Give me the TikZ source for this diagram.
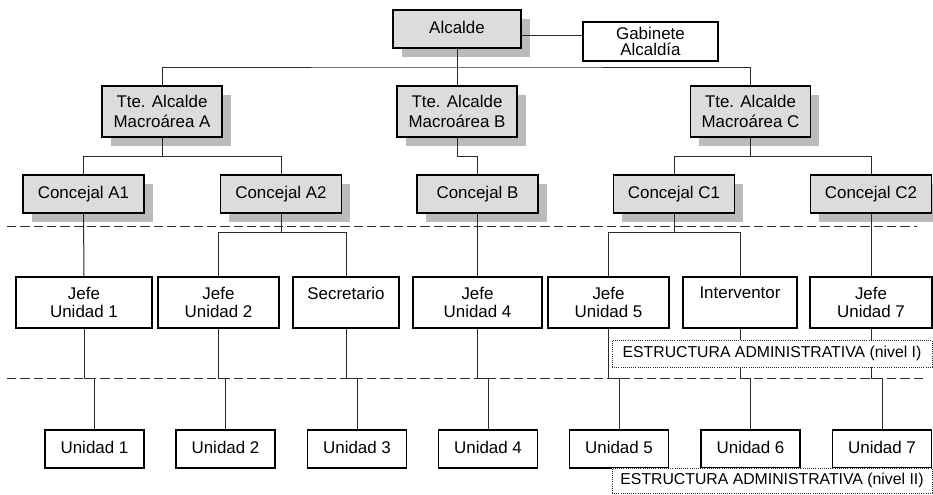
\documentclass[tikz,border=0pt]{standalone}
\usepackage{fontspec}
\setmainfont{Liberation Sans}
\usetikzlibrary{shadows}
\definecolor{boxgray}{HTML}{DCDCDC}
\definecolor{shadowgray}{HTML}{BEBABA}
\definecolor{linegray}{HTML}{2A2A2A}
\tikzset{
  orgbox/.style={draw=black, line width=0.85pt, inner sep=0pt, align=center,
    font=\fontsize{12.7}{14}\selectfont, fill=white},
  political/.style={orgbox, fill=boxgray,
    drop shadow={shadow xshift=6.4pt, shadow yshift=-7pt, fill=shadowgray, opacity=1, draw=none}},
  wtte/.style={minimum width=90pt, minimum height=38.25pt, font=\fontsize{12.7}{15}\selectfont},
  wconc/.style={minimum width=90.75pt, minimum height=28.5pt},
  wjefe/.style={minimum height=38.25pt},
  wunit/.style={minimum width=74.25pt, minimum height=28.5pt},
  conn/.style={draw=linegray, line width=0.75pt},
  levelsep/.style={draw=linegray, line width=0.75pt, dash pattern=on 7pt off 3pt},
  levellabel/.style={draw=linegray, line width=0.6pt, densely dotted, fill=white,
    inner sep=0pt, minimum width=240pt, font=\fontsize{11.85}{13}\selectfont}
}
\begin{document}
\begin{tikzpicture}[x=0.75pt, y=-0.75pt]
\useasboundingbox (0,0) rectangle (933,494);

% level separators
\draw[levelsep] (7,226) -- (917,226);
\draw[levelsep] (7,378) -- (925,378);

% political level
\node[political, minimum width=96pt, minimum height=28.5pt] (alcalde) at (457,29) {\raisebox{3pt}{Alcalde}};
\node[orgbox, minimum width=101.25pt, minimum height=29.25pt, font=\fontsize{12.7}{12}\selectfont] (gabinete) at (650.5,41.5) {Gabinete\\Alcaldía};

\node[political, wtte] (tteA) at (162,111.5) {Tte. Alcalde\\Macroárea A};
\node[political, wtte] (tteB) at (457,111.5) {Tte. Alcalde\\Macroárea B};
\node[political, wtte] (tteC) at (750.5,111.5) {Tte. Alcalde\\Macroárea C};

\node[political, wconc] (cA1) at (83.5,194) {Concejal A1};
\node[political, wconc] (cA2) at (281,194) {Concejal A2};
\node[political, wconc] (cB)  at (477.5,194) {Concejal B};
\node[political, wconc] (cC1) at (674,194) {Concejal C1};
\node[political, wconc] (cC2) at (871,194) {Concejal C2};

% administrative level I
\node[orgbox, wjefe, minimum width=102pt]   (j1)  at (84,302.5)    {Jefe\\Unidad 1};
\node[orgbox, wjefe, minimum width=90.75pt] (j2)  at (218.5,302.5) {Jefe\\Unidad 2};
\node[orgbox, wjefe, minimum width=79.5pt]  (sec) at (346,302.5)   {Secretario\\\mbox{}};
\node[orgbox, wjefe, minimum width=96.75pt] (j4)  at (477.5,302.5) {Jefe\\Unidad 4};
\node[orgbox, wjefe, minimum width=90.75pt] (j5)  at (608.5,302.5) {Jefe\\Unidad 5};
\node[orgbox, wjefe, minimum width=85.5pt]  (int) at (740,302.5)   {Interventor\\\mbox{}};
\node[orgbox, wjefe, minimum width=91.5pt]  (j7)  at (871,302.5)   {Jefe\\Unidad 7};

% administrative level II
\node[orgbox, wunit] (u1) at (94.5,449)  {\raisebox{3pt}{Unidad 1}};
\node[orgbox, wunit] (u2) at (225.5,449) {\raisebox{3pt}{Unidad 2}};
\node[orgbox, wunit] (u3) at (357,449)   {\raisebox{3pt}{Unidad 3}};
\node[orgbox, wunit] (u4) at (488,449)   {\raisebox{3pt}{Unidad 4}};
\node[orgbox, wunit] (u5) at (619,449)   {\raisebox{3pt}{Unidad 5}};
\node[orgbox, wunit] (u6) at (750.5,449) {\raisebox{3pt}{Unidad 6}};
\node[orgbox, wunit] (u7) at (882,449)   {\raisebox{3pt}{Unidad 7}};

% bus lines
\coordinate (busTop) at (457,67);
\coordinate (gabY) at (0,35);

\draw[conn] (alcalde.south) -- (tteB.north);
\draw[conn] (tteA.north) |- (busTop) -| (tteC.north);
\draw[conn] (alcalde.east |- gabY) -- (gabinete.west |- gabY);

\draw[conn] (tteA.south) -- ++(0,19) coordinate (busA);
\draw[conn] (cA1.north) |- (busA) -| (cA2.north);
\draw[conn] (tteB.south) -- ++(0,19) -| (cB.north);
\draw[conn] (tteC.south) -- ++(0,19) coordinate (busC);
\draw[conn] (cC1.north) |- (busC) -| (cC2.north);

\draw[conn] (cA1.south) -- (j1.north);
\draw[conn] (cA2.south) -- ++(0,19) coordinate (busA2);
\draw[conn] (j2.north) |- (busA2) -| (sec.north);
\draw[conn] (cB.south) -- (j4.north);
\draw[conn] (cC1.south) -- ++(0,19) coordinate (busC1);
\draw[conn] (j5.north) |- (busC1) -| (int.north);
\draw[conn] (cC2.south) -- (j7.north);

\foreach \j/\u in {j1/u1, j2/u2, sec/u3, j4/u4, j5/u5, int/u6, j7/u7}
  \draw[conn] (\j.south) -- ++(0,50) -| (\u.north);

% level labels
\node[levellabel, minimum height=20.25pt] (nivelI) at (772,353.5) {ESTRUCTURA ADMINISTRATIVA (nivel I)};
\node[levellabel, minimum height=18.75pt] (nivelII) at (772,480.5) {ESTRUCTURA ADMINISTRATIVA (nivel II)};
\end{tikzpicture}
\end{document}
